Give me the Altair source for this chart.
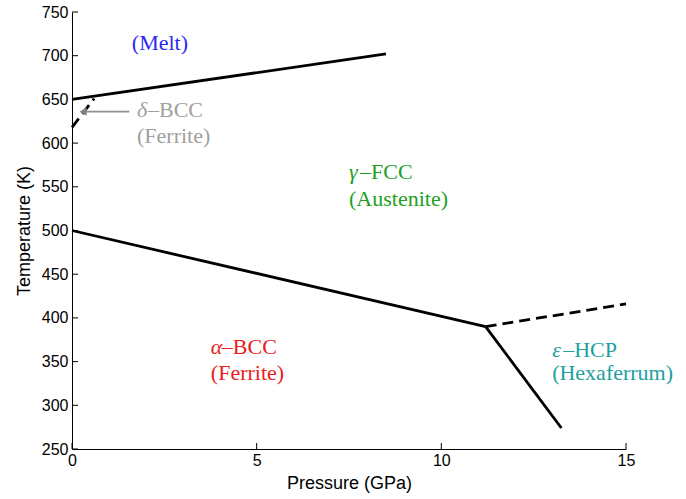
import altair as alt
import pandas as pd

# Phase boundary segments (pressure in GPa, temperature in K)
melt_p, melt_t = [0, 8.5], [650, 702]
delta_p, delta_t = [0, 0.6], [618, 651]
alpha_gamma_p, alpha_gamma_t = [0, 11.2], [500, 390]
gamma_eps_p, gamma_eps_t = [11.2, 15], [390, 416]
alpha_eps_p, alpha_eps_t = [11.2, 13.25], [390, 274]

# Phase labels
phase_greek = ["δ", "γ", "α", "ε"]
phase_struct = ["–BCC", "–FCC", "–BCC", "–HCP"]
phase_name = ["(Ferrite)", "(Austenite)", "(Ferrite)", "(Hexaferrum)"]
phase_p = [1.76, 7.5, 3.76, 13.0]
phase_t1 = [638, 567, 367, 363]
phase_t2 = [608, 536, 337, 337]
phase_color = ["#a0a0a0", "#22a022", "#e82020", "#20a0a0"]

x_ticks = [0, 5, 10, 15]
y_ticks = [250, 300, 350, 400, 450, 500, 550, 600, 650, 700, 750]

W, H = 554, 437
xs = alt.Scale(domain=[0, 15], nice=False)
ys = alt.Scale(domain=[250, 750], nice=False)
SERIF = "Liberation Serif"
FS = 22


def seg(p, t, dashed=False):
    df = pd.DataFrame({"p": p, "t": t})
    kw = dict(color="black", strokeWidth=2.8, clip=False)
    if dashed:
        kw["strokeDash"] = [11, 6]
    return alt.Chart(df).mark_line(**kw).encode(
        x=alt.X("p:Q", scale=xs), y=alt.Y("t:Q", scale=ys)
    )


axis_style = dict(tickSize=0, domainColor="black", grid=False, labelFlush=False,
                  labelFont="Liberation Sans", labelFontSize=16, labelColor="black",
                  titleFont="Liberation Sans", titleFontSize=18, titleFontWeight="normal",
                  titleColor="black")

base_axes = alt.Chart(pd.DataFrame({"p": [0], "t": [250]})).mark_point(opacity=0).encode(
    x=alt.X("p:Q", scale=xs, title="Pressure (GPa)",
            axis=alt.Axis(values=x_ticks, labelPadding=3, titlePadding=6, **axis_style)),
    y=alt.Y("t:Q", scale=ys, title="Temperature (K)",
            axis=alt.Axis(values=y_ticks, labelPadding=4, titlePadding=8, **axis_style)),
)

# Inward-pointing tick marks
xtick_rules = alt.Chart(pd.DataFrame({"p": x_ticks})).mark_rule(color="black", strokeWidth=1).encode(
    x=alt.X("p:Q", scale=xs), y=alt.value(H), y2=alt.value(H - 6)
)
ytick_rules = alt.Chart(pd.DataFrame({"t": y_ticks})).mark_rule(color="black", strokeWidth=1).encode(
    y=alt.Y("t:Q", scale=ys), x=alt.value(0), x2=alt.value(6)
)

# Arrow pointing at the delta-ferrite region
arrow = alt.Chart(pd.DataFrame({"p": [1.55], "p2": [0.3], "t": [636]})).mark_rule(
    color="#909090", strokeWidth=1.8
).encode(x=alt.X("p:Q", scale=xs), x2="p2:Q", y=alt.Y("t:Q", scale=ys))
arrow_head = alt.Chart(pd.DataFrame({"p": [0.3], "t": [636]})).mark_point(
    shape="triangle-left", filled=True, color="#808080", size=70, opacity=1
).encode(x=alt.X("p:Q", scale=xs), y=alt.Y("t:Q", scale=ys))

labels = pd.DataFrame({
    "greek": phase_greek, "struct": phase_struct, "name": phase_name,
    "p": phase_p, "t1": phase_t1, "t2": phase_t2, "color": phase_color,
})

greek_txt = alt.Chart(labels).mark_text(
    font=SERIF, fontSize=FS, fontStyle="italic", align="left", baseline="middle"
).encode(x=alt.X("p:Q", scale=xs), y=alt.Y("t1:Q", scale=ys), text="greek:N",
         color=alt.Color("color:N", scale=None))
struct_txt = alt.Chart(labels).mark_text(
    font=SERIF, fontSize=FS, align="left", baseline="middle", dx=11
).encode(x=alt.X("p:Q", scale=xs), y=alt.Y("t1:Q", scale=ys), text="struct:N",
         color=alt.Color("color:N", scale=None))
name_txt = alt.Chart(labels).mark_text(
    font=SERIF, fontSize=FS, align="left", baseline="middle"
).encode(x=alt.X("p:Q", scale=xs), y=alt.Y("t2:Q", scale=ys), text="name:N",
         color=alt.Color("color:N", scale=None))

melt_txt = alt.Chart(pd.DataFrame({"p": [2.38], "t": [714], "s": ["(Melt)"]})).mark_text(
    font=SERIF, fontSize=FS, color="#2a2af0", align="center", baseline="middle"
).encode(x=alt.X("p:Q", scale=xs), y=alt.Y("t:Q", scale=ys), text="s:N")

chart = alt.layer(
    base_axes, xtick_rules, ytick_rules,
    seg(melt_p, melt_t), seg(delta_p, delta_t, True),
    seg(alpha_gamma_p, alpha_gamma_t), seg(gamma_eps_p, gamma_eps_t, True),
    seg(alpha_eps_p, alpha_eps_t),
    arrow, arrow_head, greek_txt, struct_txt, name_txt, melt_txt,
).properties(
    width=W, height=H,
    autosize=alt.AutoSizeParams(type="none"),
    padding={"left": 72, "top": 12, "right": 60, "bottom": 50},
    background="white",
).configure_view(stroke=None)

chart.save("out.html", embed_options={"renderer": "svg", "actions": False})
